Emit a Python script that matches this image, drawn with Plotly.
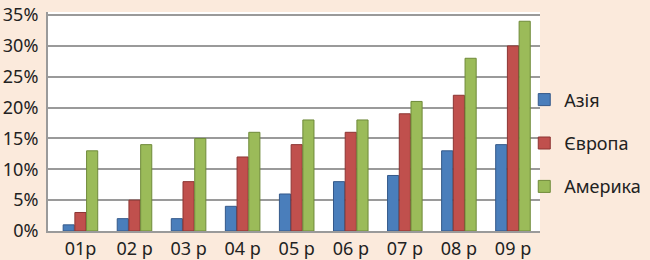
import plotly.graph_objects as go

categories = ["01р", "02 р", "03 р", "04 р", "05 р", "06 р", "07 р", "08 р", "09 р"]
asia = [1, 2, 2, 4, 6, 8, 9, 13, 14]
europe = [3, 5, 8, 12, 14, 16, 19, 22, 30]
america = [13, 14, 15, 16, 18, 18, 21, 28, 34]
y_ticks = [0, 5, 10, 15, 20, 25, 30, 35]
y_tick_labels = [f"{v}%" for v in y_ticks]

series = [
    ("Азія", asia, "#4a7ebb", "#34598a"),
    ("Європа", europe, "#c0504d", "#8c3533"),
    ("Америка", america, "#9bbb59", "#6f8a3a"),
]

fig = go.Figure()
for name, vals, color, edge in series:
    fig.add_trace(go.Bar(
        name=name, x=categories, y=vals, legendgroup=name,
        marker=dict(color=color, line=dict(color=edge, width=1)),
    ))

font = dict(family="Noto Sans", size=18, color="#222222")
fig.update_layout(
    width=650, height=260,
    margin=dict(l=48, r=110, t=12, b=29, autoexpand=False),
    paper_bgcolor="#fbeadc",
    plot_bgcolor="#ffffff",
    barmode="group",
    bargap=0.35,
    bargroupgap=0.05,
    font=font,
    showlegend=True,
    legend=dict(
        x=0.968, xanchor="left", y=0.40, yanchor="middle",
        font=dict(family="Noto Sans", size=18, color="#222222"),
        tracegroupgap=17, itemwidth=30,
        bgcolor="rgba(0,0,0,0)",
    ),
    xaxis=dict(
        range=[-0.6, 8.5],
        showgrid=False, automargin=False,
        showline=True, linecolor="#9a9a9a", linewidth=2,
        ticks="", tickfont=font, ticklabelstandoff=0,
    ),
    yaxis=dict(
        range=[0, 35.5],
        tickvals=y_ticks, ticktext=y_tick_labels,
        showgrid=True, gridcolor="#9a9a9a", gridwidth=2,
        showline=True, linecolor="#9a9a9a", linewidth=2,
        zeroline=False, automargin=False, ticklabeloverflow="allow",
        ticks="", tickfont=font, ticklabelstandoff=4,
    ),
)

fig.write_html("out.html")
